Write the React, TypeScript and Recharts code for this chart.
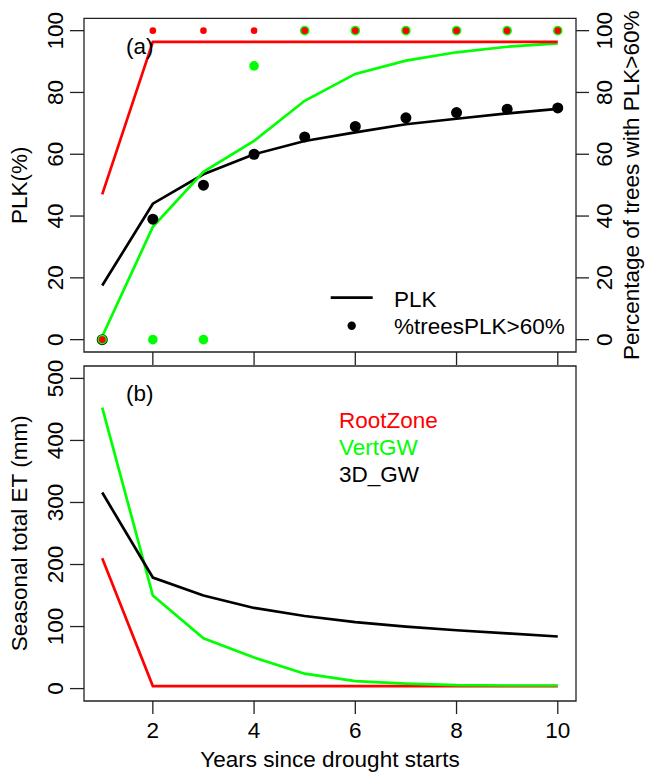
import React from "react";
import { ComposedChart, Line, XAxis, YAxis, ReferenceArea } from "recharts";

// ---- data ----
const years = [1, 2, 3, 4, 5, 6, 7, 8, 9, 10];
const xTicks = [2, 4, 6, 8, 10];
const plkTicks = [0, 20, 40, 60, 80, 100];
const etTicks = [0, 100, 200, 300, 400, 500];

// panel (a): PLK (%) lines
const plkRootZone = [47, 96.4, 96.4, 96.4, 96.4, 96.4, 96.4, 96.4, 96.4, 96.4];
const plkVertGW = [1, 36.5, 54.3, 64.3, 77.3, 86, 90.3, 93, 94.8, 95.9];
const plk3DGW = [17.5, 44, 53.5, 60, 64.3, 67.1, 69.7, 71.5, 73.2, 74.7];

// panel (a): % trees with PLK > 60% (points)
const ptRootZone = [0, 100, 100, 100, 100, 100, 100, 100, 100, 100];
const ptVertGW = [0, 0, 0, 88.6, 100, 100, 100, 100, 100, 100];
const pt3DGW = [0, 39, 50, 60, 65.6, 69, 71.8, 73.5, 74.6, 75];

// panel (b): seasonal total ET (mm)
const etRootZone = [210, 4, 4, 4, 4, 4, 4, 4, 4, 4];
const etVertGW = [453, 150, 81, 50, 24, 12, 8, 5.5, 5, 5];
const et3DGW = [316, 179, 150, 130, 117, 107, 100, 94, 89, 84];

const rows = years.map((y, i) => ({
  year: y,
  plkRoot: plkRootZone[i],
  plkVert: plkVertGW[i],
  plk3D: plk3DGW[i],
  ptRoot: ptRootZone[i],
  ptVert: ptVertGW[i],
  pt3D: pt3DGW[i],
  etRoot: etRootZone[i],
  etVert: etVertGW[i],
  et3D: et3DGW[i],
}));

// ---- styles ----
const FS = 22.5;
const FONT = "'Liberation Sans', Arial, Helvetica, sans-serif";
const AX = "#222";
const RED = "#FF0000";
const GREEN = "#00FF00";
const BLACK = "#000000";
const LW = 2.7;
const tickLineStyle = { stroke: AX, strokeWidth: 1.3 };

const EmptyTick = () => <g />;

const LeftTick = (props: any) => {
  const { y, payload } = props;
  const bx = 63;
  return (
    <text x={bx} y={y} transform={`rotate(-90 ${bx} ${y})`} textAnchor="middle" fontSize={FS} fontFamily={FONT} fill="#000">
      {payload.value}
    </text>
  );
};

const RightTick = (props: any) => {
  const { y, payload } = props;
  const bx = 612;
  return (
    <text x={bx} y={y} transform={`rotate(-90 ${bx} ${y})`} textAnchor="middle" fontSize={FS} fontFamily={FONT} fill="#000">
      {payload.value}
    </text>
  );
};

const BottomTick = (props: any) => {
  const { x, payload } = props;
  return (
    <text x={x} y={386} textAnchor="middle" fontSize={FS} fontFamily={FONT} fill="#000">
      {payload.value}
    </text>
  );
};

const lineProps = {
  type: "linear" as const,
  dot: false,
  activeDot: false,
  isAnimationActive: false,
  strokeWidth: LW,
  xAxisId: "x",
};

const pointProps = (color: string, r: number) => ({
  type: "linear" as const,
  stroke: "none",
  strokeWidth: 0,
  activeDot: false,
  isAnimationActive: false,
  xAxisId: "x",
  dot: { r, fill: color, stroke: "none", strokeWidth: 0 },
});

export default function App() {
  return (
    <div style={{ position: "absolute", left: 0, top: 0, width: 645, height: 773, background: "#fff", overflow: "hidden" }}>
      {/* Panel (a) */}
      <div style={{ position: "absolute", left: 0, top: 0 }}>
        <ComposedChart width={645} height={366} data={rows} margin={{ top: 18.3, right: 0, bottom: 0, left: 0 }}>
          <XAxis
            xAxisId="x"
            dataKey="year"
            type="number"
            domain={[0.64, 10.36]}
            allowDataOverflow
            ticks={xTicks}
            height={14}
            tickSize={13}
            tickMargin={0}
            axisLine={false}
            tickLine={tickLineStyle}
            tick={(p: any) => <EmptyTick {...p} />}
          />
          <YAxis
            yAxisId="l"
            orientation="left"
            width={84}
            type="number"
            domain={[-4, 104]}
            allowDataOverflow
            ticks={plkTicks}
            tickSize={14}
            tickMargin={0}
            axisLine={false}
            tickLine={tickLineStyle}
            tick={(p: any) => <LeftTick {...p} />}
          />
          <YAxis
            yAxisId="r"
            orientation="right"
            width={69}
            type="number"
            domain={[-4, 104]}
            allowDataOverflow
            ticks={plkTicks}
            tickSize={13}
            tickMargin={0}
            axisLine={false}
            tickLine={tickLineStyle}
            tick={(p: any) => <RightTick {...p} />}
          />
          <ReferenceArea xAxisId="x" yAxisId="l" x1={0.64} x2={10.36} y1={-4} y2={104} fill="none" stroke={AX} strokeWidth={1.3} ifOverflow="visible" />
          <Line {...lineProps} yAxisId="l" dataKey="plk3D" stroke={BLACK} />
          <Line {...lineProps} yAxisId="l" dataKey="plkVert" stroke={GREEN} />
          <Line {...lineProps} yAxisId="l" dataKey="plkRoot" stroke={RED} />
          <Line {...pointProps(BLACK, 5.5)} yAxisId="r" dataKey="pt3D" />
          <Line {...pointProps(GREEN, 4.8)} yAxisId="r" dataKey="ptVert" />
          <Line {...pointProps(RED, 3.3)} yAxisId="r" dataKey="ptRoot" />
        </ComposedChart>
      </div>

      {/* Panel (b) */}
      <div style={{ position: "absolute", left: 0, top: 352 }}>
        <ComposedChart width={645} height={421} data={rows} margin={{ top: 14, right: 69, bottom: 0, left: 0 }}>
          <XAxis
            xAxisId="x"
            dataKey="year"
            type="number"
            domain={[0.64, 10.36]}
            allowDataOverflow
            ticks={xTicks}
            height={72}
            tickSize={13}
            tickMargin={0}
            axisLine={false}
            tickLine={tickLineStyle}
            tick={(p: any) => <BottomTick {...p} />}
          />
          <YAxis
            yAxisId="l"
            orientation="left"
            width={84}
            type="number"
            domain={[-20, 520]}
            allowDataOverflow
            ticks={etTicks}
            tickSize={14}
            tickMargin={0}
            axisLine={false}
            tickLine={tickLineStyle}
            tick={(p: any) => <LeftTick {...p} />}
          />
          <ReferenceArea xAxisId="x" yAxisId="l" x1={0.64} x2={10.36} y1={-20} y2={520} fill="none" stroke={AX} strokeWidth={1.3} ifOverflow="visible" />
          <Line {...lineProps} yAxisId="l" dataKey="etRoot" stroke={RED} />
          <Line {...lineProps} yAxisId="l" dataKey="etVert" stroke={GREEN} />
          <Line {...lineProps} yAxisId="l" dataKey="et3D" stroke={BLACK} />
        </ComposedChart>
      </div>

      {/* Text overlay: titles, panel labels, legends */}
      <svg width={645} height={773} style={{ position: "absolute", left: 0, top: 0, pointerEvents: "none" }} fontFamily={FONT} fontSize={FS}>
        <text x={27} y={185.3} transform="rotate(-90 27 185.3)" textAnchor="middle" fill="#000">PLK(%)</text>
        <text x={639.5} y={185.3} transform="rotate(-90 639.5 185.3)" textAnchor="middle" fill="#000">Percentage of trees with PLK&gt;60%</text>
        <text x={27} y={533.3} transform="rotate(-90 27 533.3)" textAnchor="middle" fill="#000">Seasonal total ET (mm)</text>
        <text x={330} y={766.5} textAnchor="middle" fill="#000">Years since drought starts</text>
        <text x={126} y={53.5} fill="#000">(a)</text>
        <text x={126} y={400.8} fill="#000">(b)</text>
        {/* legend (a) */}
        <line x1={330.7} y1={297.7} x2={372.7} y2={297.7} stroke="#000" strokeWidth={LW} />
        <circle cx={351.7} cy={325.7} r={4.2} fill="#000" />
        <text x={394} y={306.7} fill="#000">PLK</text>
        <text x={394} y={334.2} fill="#000">%treesPLK&gt;60%</text>
        {/* legend (b) */}
        <text x={339} y={427.5} fill={RED}>RootZone</text>
        <text x={339} y={454.5} fill={GREEN}>VertGW</text>
        <text x={339} y={481.5} fill="#000">3D_GW</text>
      </svg>
    </div>
  );
}
